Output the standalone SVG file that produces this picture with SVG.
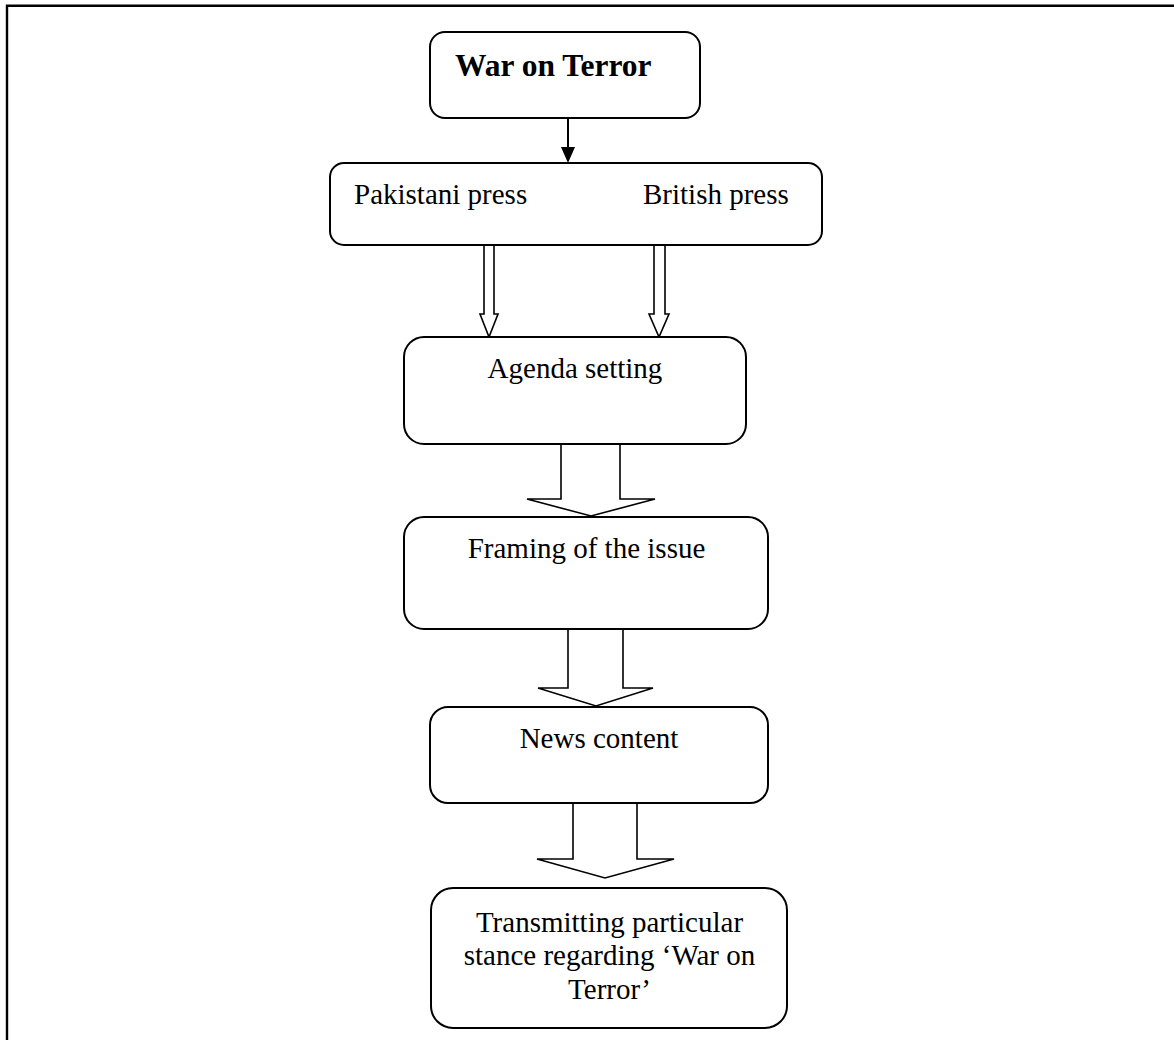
<svg xmlns="http://www.w3.org/2000/svg" width="1174" height="1040" viewBox="0 0 1174 1040">
  <style>
    .box { fill: #fff; stroke: #000; stroke-width: 2; }
    .hollow { fill: #fff; stroke: #000; stroke-width: 1.6; stroke-linejoin: miter; }
    .lbl { font-family: "Liberation Serif", "Times New Roman", serif; font-size: 29px; fill: #000; }
    .mid { text-anchor: middle; }
    .title { font-weight: bold; font-size: 31.5px; }
    .frame { stroke: #000; stroke-width: 2.4; fill: none; }
  </style>

  <rect width="1174" height="1040" fill="#fff"/>

  <!-- page frame (top and left edges) -->
  <path class="frame" d="M7,1040 V5.7 H1174"/>

  <g id="connectors">
    <!-- solid arrow: War on Terror -> press -->
    <line x1="568" y1="118" x2="568" y2="148" stroke="#000" stroke-width="2"/>
    <polygon points="561,147 575,147 568,163" fill="#000"/>
    <!-- narrow hollow arrows: press -> agenda -->
    <polygon class="hollow" points="484,245 494,245 494,314 498,314 489,337 480,314 484,314"/>
    <polygon class="hollow" points="654,245 665,245 665,314 669,314 659,337 649,314 654,314"/>
    <!-- wide hollow arrows -->
    <polygon class="hollow" points="561,444 620,444 620,499 655,499 591,516 527,499 561,499"/>
    <polygon class="hollow" points="568,629 623,629 623,688 653,688 596,706 538,688 568,688"/>
    <polygon class="hollow" points="573,803 637,803 637,859 674,859 605,878 537,859 573,859"/>
  </g>

  <g id="war-on-terror">
    <rect class="box" x="430" y="32" width="270" height="86" rx="15"/>
    <text class="lbl title" x="455" y="76">War on Terror</text>
  </g>

  <g id="press">
    <rect class="box" x="330" y="163" width="492" height="82" rx="14"/>
    <text class="lbl" x="354" y="204">Pakistani press</text>
    <text class="lbl" x="643" y="204">British press</text>
  </g>

  <g id="agenda-setting">
    <rect class="box" x="404" y="337" width="342" height="107" rx="20"/>
    <text class="lbl mid" x="575" y="378">Agenda setting</text>
  </g>

  <g id="framing">
    <rect class="box" x="404" y="517" width="364" height="112" rx="20"/>
    <text class="lbl mid" x="586.5" y="558">Framing of the issue</text>
  </g>

  <g id="news-content">
    <rect class="box" x="430" y="707" width="338" height="96" rx="18"/>
    <text class="lbl mid" x="599" y="748">News content</text>
  </g>

  <g id="stance">
    <rect class="box" x="431" y="888" width="356" height="140" rx="22"/>
    <text class="lbl mid" x="609.5" y="932">Transmitting particular</text>
    <text class="lbl mid" x="609.5" y="965">stance regarding ‘War on</text>
    <text class="lbl mid" x="609.5" y="999">Terror’</text>
  </g>
</svg>
